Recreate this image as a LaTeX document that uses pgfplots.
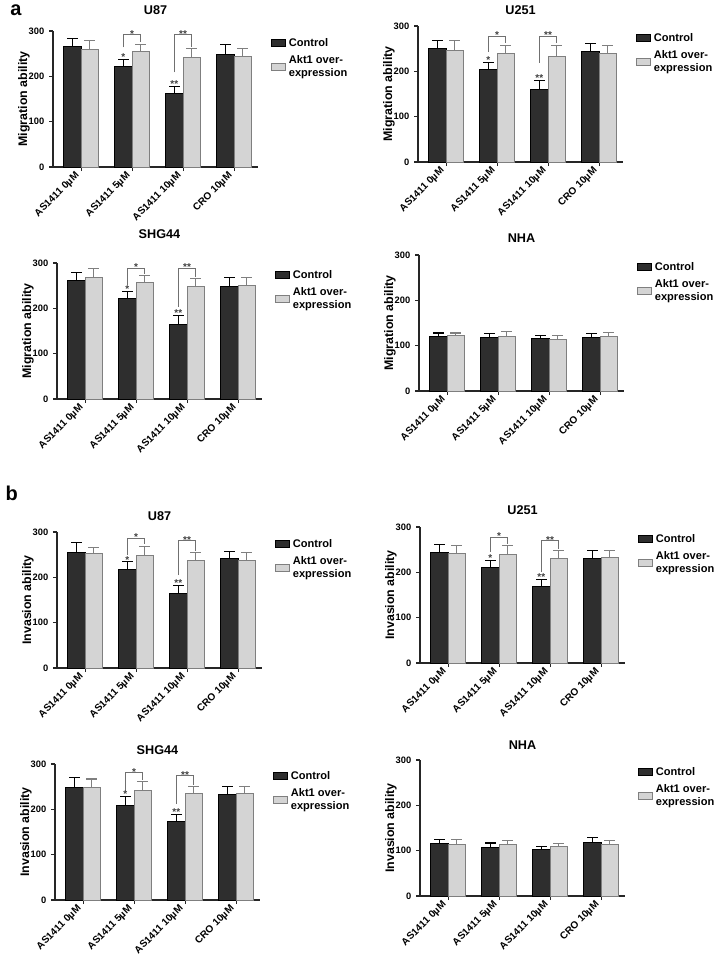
\documentclass[border=0pt]{standalone}
\usepackage{pgfplots}
\pgfplotsset{compat=1.18}
\usepackage{fontspec}
\setmainfont{Liberation Sans}
\definecolor{darkbar}{HTML}{2E2E2E}
\definecolor{lightbar}{HTML}{D4D4D4}
\definecolor{lightedge}{HTML}{7F7F7F}
\definecolor{brkcol}{HTML}{707070}

\tikzset{
  brk/.style={line width=0.6pt, brkcol},
  st/.style={font=\bfseries\fontsize{7.5}{8}\selectfont, anchor=base, inner sep=0pt, yshift=-2.2pt, black!75},
  sd/.style={font=\bfseries\fontsize{7.5}{8}\selectfont, anchor=base, inner sep=0pt, yshift=-0.9pt, black!75},
}
% #1 left x, #2 centre x, #3 right x, #4 top, #5 left bottom, #6 right bottom, #7 label, #8 dark cap
\newcommand{\sig}[8]{%
  \draw[brk] (axis cs:#1,#5) -- (axis cs:#1,#4) -- (axis cs:#3,#4) -- (axis cs:#3,#6);
  \node[st] at (axis cs:#2,#4) {#7};
  \node[sd] at (axis cs:#1,#8) {#7};
}

\pgfplotsset{
  panel/.style={
    width=153.75pt, height=102pt, scale only axis, clip=false,
    axis x line*=bottom, axis y line*=left,
    axis line style={line width=0.8pt, black!85},
    xmin=-0.55, xmax=3.47, ymin=0, ymax=300,
    xtick={0,1,2,3},
    xticklabels={AS1411 0µM, AS1411 5µM, AS1411 10µM, CRO 10µM},
    ytick={0,100,200,300},
    tick align=outside, major tick length=3pt,
    tick style={line width=0.8pt, black!85},
    /pgf/number format/assume math mode=true,
    yticklabel style={font=\bfseries\fontsize{7}{8}\selectfont},
    xticklabel style={font=\bfseries\fontsize{7.5}{8}\selectfont, rotate=45, anchor=east},
    every axis y label/.style={at={(axis description cs:-0.1415,0.5)}, rotate=90, anchor=center,
      font=\bfseries\fontsize{9.3}{10}\selectfont},
    title style={font=\bfseries\fontsize{9.5}{11}\selectfont, anchor=base, at={(0.5,1)}},
    ybar=0pt, bar width=0.34,
    legend style={draw=none, fill=none, inner sep=0pt, at={(1.06,0.97)}, anchor=north west,
      font=\bfseries\fontsize{8.3}{9.5}\selectfont, nodes={align=left}, cells={anchor=west}, row sep=1.5pt},
    legend image code/.code={\draw[#1] (0pt,-2.5pt) rectangle (11pt,2.5pt);},
    legend entries={Control,{Akt1 over-\\expression}},
  },
  dk/.style={fill=darkbar, draw=black, line width=0.75pt, bar shift=-0.17,
    error bars/.cd, y dir=plus, y explicit,
    error bar style={line width=0.8pt, black},
    error mark options={rotate=90, line width=0.8pt, black, mark size=4pt}},
  lt/.style={fill=lightbar, draw=lightedge, line width=0.75pt, bar shift=0.17,
    error bars/.cd, y dir=plus, y explicit,
    error bar style={line width=0.8pt, lightedge},
    error mark options={rotate=90, line width=0.8pt, lightedge, mark size=4pt}},
}

\begin{document}
\begin{tikzpicture}
\path[use as bounding box] (0pt,0pt) rectangle (540.75pt,-720pt);

\node[anchor=base west, inner sep=0pt, font=\bfseries\fontsize{15}{15}\selectfont] at (7.5pt,-11.25pt) {a};
\node[anchor=base west, inner sep=0pt, font=\bfseries\fontsize{15}{15}\selectfont] at (4pt,-375pt) {b};

% ---------- a: U87
\begin{axis}[panel, at={(39.75pt,-125.25pt)}, anchor=south west,
  title={U87}, title style={yshift=6.75pt}, ylabel={Migration ability}]
\addplot+[dk] coordinates {(0,266) +- (0,18) (1,221) +- (0,17) (2,162) +- (0,15) (3,249) +- (0,22)};
\addplot+[lt] coordinates {(0,259) +- (0,21) (1,255) +- (0,16) (2,241) +- (0,20) (3,244) +- (0,18)};
\sig{0.83}{1}{1.17}{293}{264}{276}{*}{238}
\sig{1.83}{2}{2.17}{293}{209}{265}{**}{177}
\end{axis}

% ---------- a: U251
\begin{axis}[panel, at={(313.5pt,-121.5pt)}, anchor=south west,
  title={U251}, title style={yshift=2.5pt}, ylabel={Migration ability}]
\addplot+[dk] coordinates {(0,250) +- (0,17) (1,204) +- (0,15) (2,160) +- (0,20) (3,244) +- (0,17)};
\addplot+[lt] coordinates {(0,247) +- (0,20) (1,239) +- (0,19) (2,232) +- (0,26) (3,239) +- (0,17)};
\sig{0.83}{1}{1.17}{278}{243}{262}{*}{219}
\sig{1.83}{2}{2.17}{278}{219}{262}{**}{180}
\end{axis}

% ---------- a: SHG44
\begin{axis}[panel, at={(42.75pt,-299.25pt)}, anchor=south west,
  title={SHG44}, title style={yshift=12.75pt}, ylabel={Migration ability}]
\addplot+[dk] coordinates {(0,262) +- (0,18) (1,221) +- (0,16) (2,164) +- (0,21) (3,249) +- (0,18)};
\addplot+[lt] coordinates {(0,267) +- (0,20) (1,258) +- (0,14) (2,249) +- (0,16) (3,251) +- (0,18)};
\sig{0.83}{1}{1.17}{289}{252}{276}{*}{237}
\sig{1.83}{2}{2.17}{289}{203}{269}{**}{185}
\end{axis}

% ---------- a: NHA
\begin{axis}[panel, at={(314.25pt,-293.25pt)}, anchor=south west,
  title={NHA}, title style={yshift=3.75pt}, ylabel={Migration ability}]
\addplot+[dk] coordinates {(0,121) +- (0,7) (1,119) +- (0,7) (2,115) +- (0,7) (3,119) +- (0,8)};
\addplot+[lt] coordinates {(0,122) +- (0,6) (1,120) +- (0,11) (2,114) +- (0,8) (3,121) +- (0,9)};
\end{axis}

% ---------- b: U87
\begin{axis}[panel, at={(42.75pt,-501pt)}, anchor=south west,
  title={U87}, title style={yshift=3pt}, ylabel={Invasion ability}]
\addplot+[dk] coordinates {(0,254) +- (0,22) (1,217) +- (0,17) (2,165) +- (0,18) (3,241) +- (0,17)};
\addplot+[lt] coordinates {(0,252) +- (0,14) (1,248) +- (0,21) (2,238) +- (0,16) (3,238) +- (0,16)};
\sig{0.83}{1}{1.17}{287}{249}{273}{*}{234}
\sig{1.83}{2}{2.17}{282}{205}{258}{**}{183}
\end{axis}

% ---------- b: U251
\begin{axis}[panel, at={(315pt,-497.25pt)}, anchor=south west,
  title={U251}, title style={yshift=3.75pt}, ylabel={Invasion ability}]
\addplot+[dk] coordinates {(0,243) +- (0,19) (1,210) +- (0,16) (2,168) +- (0,16) (3,231) +- (0,18)};
\addplot+[lt] coordinates {(0,241) +- (0,18) (1,240) +- (0,19) (2,231) +- (0,18) (3,233) +- (0,16)};
\sig{0.83}{1}{1.17}{278}{245}{262}{*}{226}
\sig{1.83}{2}{2.17}{271}{200}{252}{**}{184}
\end{axis}

% ---------- b: SHG44
\begin{axis}[panel, at={(41.25pt,-675pt)}, anchor=south west,
  title={SHG44}, title style={yshift=1pt}, ylabel={Invasion ability}]
\addplot+[dk] coordinates {(0,249) +- (0,22) (1,209) +- (0,19) (2,173) +- (0,16) (3,232) +- (0,19)};
\addplot+[lt] coordinates {(0,249) +- (0,18) (1,242) +- (0,20) (2,234) +- (0,17) (3,234) +- (0,16)};
\sig{0.83}{1}{1.17}{282}{240}{265}{*}{228}
\sig{1.83}{2}{2.17}{275}{212}{254}{**}{189}
\end{axis}

% ---------- b: NHA
\begin{axis}[panel, at={(315pt,-672pt)}, anchor=south west,
  title={NHA}, title style={yshift=2pt}, ylabel={Invasion ability}]
\addplot+[dk] coordinates {(0,116) +- (0,9) (1,108) +- (0,9) (2,103) +- (0,6) (3,119) +- (0,10)};
\addplot+[lt] coordinates {(0,114) +- (0,11) (1,114) +- (0,8) (2,110) +- (0,6) (3,114) +- (0,8)};
\end{axis}
\end{tikzpicture}
\end{document}
